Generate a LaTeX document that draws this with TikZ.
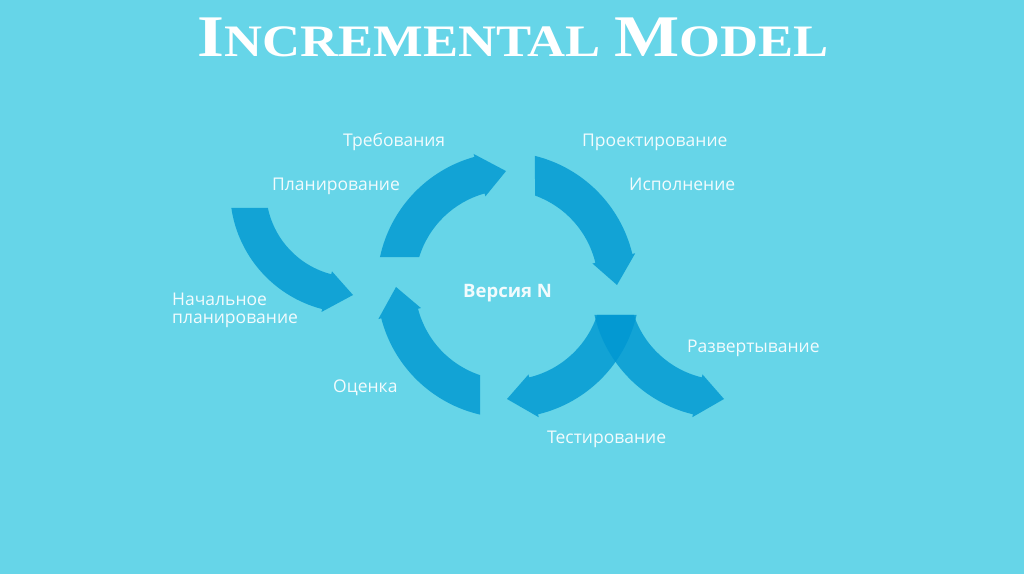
\documentclass[tikz,border=0pt]{standalone}
\usepackage{fontspec}
\setmainfont{Open Sans}
\newfontfamily\titlefont{Liberation Serif}
\definecolor{bgc}{RGB}{102,213,232}
\definecolor{arrowc}{RGB}{0,152,210}
\definecolor{labelc}{RGB}{242,251,253}
% cx, cy, R, half width, outer start, inner start, tip angle, head offset, barb extra
\newcommand\arcarrow[9]{%
  \pgfmathsetmacro\arcRo{#3+#4}%
  \pgfmathsetmacro\arcRi{#3-#4}%
  \pgfmathsetmacro\arcRoo{#3+#4+#9}%
  \pgfmathsetmacro\arcRii{#3-#4-#9}%
  \pgfmathsetmacro\arcAh{#7+#8}%
  \fill[arrowshape] ([shift={(#1,#2)}]#5:\arcRo) arc[start angle=#5, end angle=\arcAh, radius=\arcRo]
    -- ([shift={(#1,#2)}]\arcAh:\arcRoo) -- ([shift={(#1,#2)}]#7:#3)
    -- ([shift={(#1,#2)}]\arcAh:\arcRii) -- ([shift={(#1,#2)}]\arcAh:\arcRi)
    arc[start angle=\arcAh, end angle=#6, radius=\arcRi] -- cycle;}
\begin{document}
\begin{tikzpicture}[x=1pt,y=1pt,
  arrowshape/.style={fill=arrowc, fill opacity=0.82},
  lbl/.style={text=labelc, font=\fontsize{17.5}{18}\selectfont, inner sep=0pt, anchor=base west},
  ttl/.style={text=white, inner sep=0pt, anchor=base}]
\useasboundingbox (0,0) rectangle (1024,574);
\fill[bgc] (0,0) rectangle (1024,574);
% title
\node[ttl] (title) at (513,517) {\scalebox{1.17}[1]{\titlefont\bfseries\fontsize{45}{45}\selectfont{\fontsize{59}{59}\selectfont I}NCREMENTAL {\fontsize{59}{59}\selectfont M}ODEL}};
% arrows
\arcarrow{353}{384}{105}{18}{188.4}{191.9}{270}{-14.5}{3}
\arcarrow{510}{289}{114}{19}{167.85}{162.9}{92}{13.5}{3}
\arcarrow{503}{289}{114}{19}{76.1}{70.3}{0}{13.5}{3}
\arcarrow{507}{289}{114}{19}{-13.0}{-18.4}{-90}{13.5}{3}
\arcarrow{724}{289}{114}{19}{193}{198.4}{270}{-13.5}{3}
\arcarrow{510}{289}{114}{19}{-103}{-108.4}{-179}{13.5}{3}
% labels
\node[lbl] (req) at (343,427) {Требования};
\node[lbl] (plan) at (272,384) {Планирование};
\node[lbl] (design) at (582,427) {Проектирование};
\node[lbl] (impl) at (629,384) {Исполнение};
\node[lbl, font=\fontsize{18.5}{19}\selectfont\bfseries] (ver) at (463,277) {Версия N};
\node[lbl, align=left] (init) at (172,251) {Начальное\\[-0.5pt]планирование};
\node[lbl] (eval) at (333,182) {Оценка};
\node[lbl] (test) at (547,131) {Тестирование};
\node[lbl] (deploy) at (687,222) {Развертывание};
\end{tikzpicture}
\end{document}
